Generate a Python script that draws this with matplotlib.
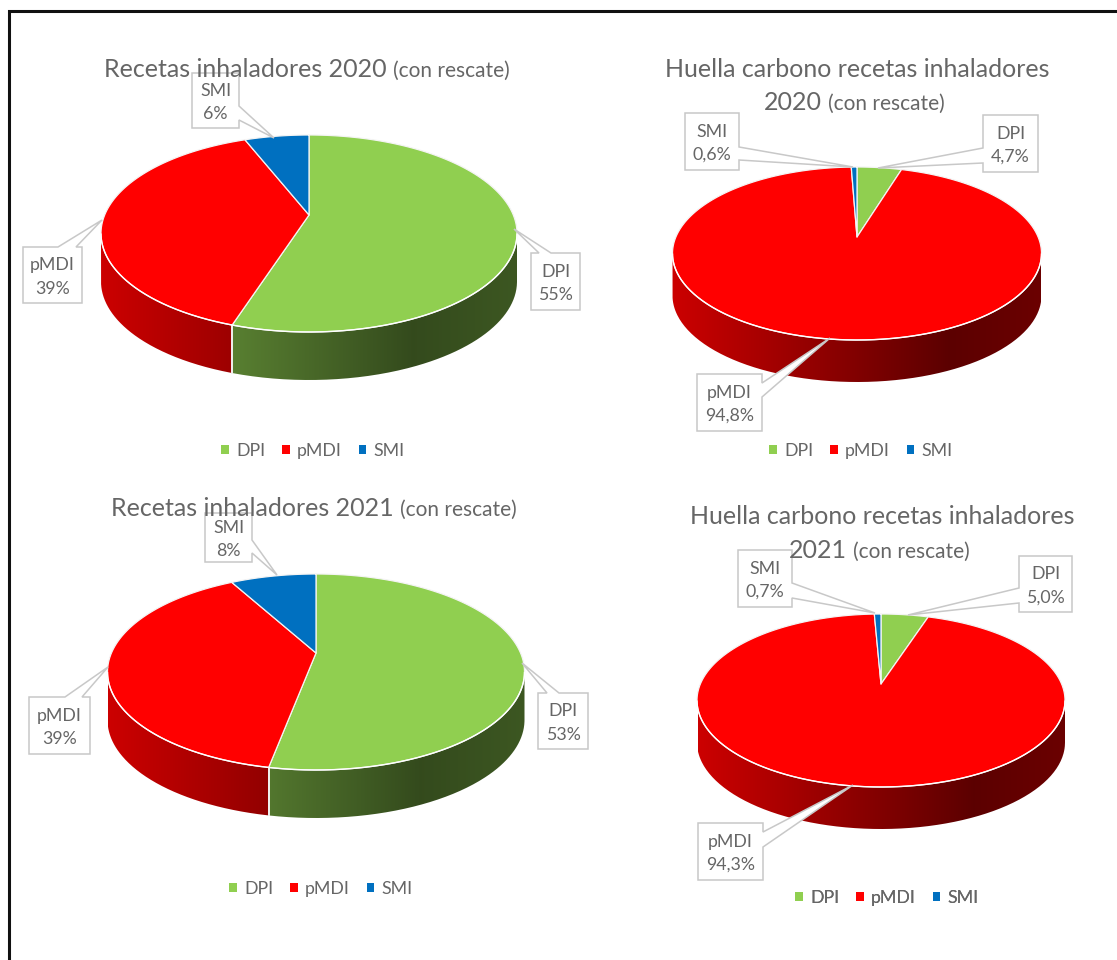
#!/usr/bin/env python3
"""Four 3D-look pie charts of inhaler prescriptions and their carbon footprint."""

import numpy as np
import matplotlib
matplotlib.use("Agg")
import matplotlib.pyplot as plt
from matplotlib.patches import Patch, PathPatch, Polygon
from matplotlib.path import Path

plt.rcParams["font.family"] = ["Lato", "DejaVu Sans"]

CATEGORIES = ["DPI", "pMDI", "SMI"]
RECETAS_2020 = [55, 39, 6]
HUELLA_2020 = [4.7, 94.8, 0.6]
RECETAS_2021 = [53, 39, 8]
HUELLA_2021 = [5.0, 94.3, 0.7]

TEXT_GREY = "#666666"
LINE_GREY = "#c8c8c8"
COLORS = ["#90cf50", "#ff0000", "#0070c0"]
BIG = 18.0
SMALL = 15.0
LABEL = 12.8


def unit(frac):
    return 2 * np.pi * np.asarray(frac)


def make_proj(cx, cy, left, right, top, bottom):
    # perspective view of a circle, the apex sits above the ellipse centre
    up, down = cy - top, bottom - cy
    k = (down - up) / (down + up)
    ry = up * (1 + k)
    rx = (right - left) / 2 * np.sqrt(1 - k * k)

    def proj(t):
        s, c = np.sin(t), np.cos(t)
        d = 1 + k * c
        return cx + rx * s / d, cy - ry * c / d

    return proj, np.arccos(-k)


def draw_pie(ax, values, cx, cy, left, right, top, bottom, depth):
    proj, t_side = make_proj(cx, cy, left, right, top, bottom)
    total = sum(values)
    edges = np.concatenate([[0], np.cumsum(values)]) / total

    # wall shading runs across the whole pie width
    f = np.linspace(0, 1, 300)
    shade = np.interp(f, [0, 0.75, 1], [0.80, 0.36, 0.42])

    for i, color in enumerate(COLORS):
        a = max(unit(edges[i]), t_side)
        b = min(unit(edges[i + 1]), 2 * np.pi - t_side)
        if b <= a:
            continue
        t = np.linspace(a, b, 200)
        x, y = proj(t)
        verts = np.vstack([np.c_[x, y], np.c_[x, y + depth][::-1]])
        clip = PathPatch(Path(np.vstack([verts, verts[:1]])), fc="none", ec="none",
                         transform=ax.transData)
        ax.add_patch(clip)
        rgb = np.array(matplotlib.colors.to_rgb(color))
        grad = (shade[:, None] * rgb)[None, :, :]
        im = ax.imshow(grad, extent=(left, right, bottom + depth + 2, top), aspect="auto",
                       zorder=2, interpolation="bilinear")
        im.set_clip_path(clip)
        ax.plot(x, y, color="white", lw=1.0, zorder=4, solid_capstyle="butt")
        for tt in (a, b):
            if t_side < tt < 2 * np.pi - t_side:
                px, py = proj(tt)
                ax.plot([px, px], [py, py + depth], color="#f2f2f2", lw=1.2, zorder=3)

    for i, color in enumerate(COLORS):
        t = np.linspace(unit(edges[i]), unit(edges[i + 1]), 300)
        x, y = proj(t)
        pts = np.vstack([[cx, cy], np.c_[x, y]])
        ax.add_patch(Polygon(pts, closed=True, fc=color, ec="#f4f4f4", lw=0.9, zorder=3.5,
                             joinstyle="round"))


def callout(ax, text, box, side, a, b, tip):
    # box is x0, y0, x1, y1; the tail leaves one side between a and b
    x0, y0, x1, y1 = box
    if side == "top":
        pts = [(x0, y0), (a, y0), tip, (b, y0), (x1, y0), (x1, y1), (x0, y1)]
    elif side == "right":
        pts = [(x0, y0), (x1, y0), (x1, a), tip, (x1, b), (x1, y1), (x0, y1)]
    elif side == "left":
        pts = [(x0, y0), (x1, y0), (x1, y1), (x0, y1), (x0, b), tip, (x0, a)]
    ax.add_patch(Polygon(pts, closed=True, fc="white", ec=LINE_GREY, lw=1.1, zorder=6))
    ax.text((x0 + x1) / 2, (y0 + y1) / 2 + 2, text, ha="center", va="center", color=TEXT_GREY,
            fontsize=LABEL, linespacing=1.55, zorder=8)


def title(ax, big, x_end, y):
    ax.text(x_end, y, big, ha="right", va="baseline", color=TEXT_GREY, fontsize=BIG, zorder=7)
    ax.text(x_end + 6, y, "(con rescate)", ha="left", va="baseline", color=TEXT_GREY,
            fontsize=SMALL, zorder=7)


def legend(ax, cx, cy):
    handles = [Patch(fc=c, ec="none") for c in COLORS]
    leg = ax.legend(handles, CATEGORIES, ncol=3, frameon=False, loc="center",
                    bbox_to_anchor=(cx, cy + 1), bbox_transform=ax.transData, fontsize=LABEL,
                    handlelength=0.42, handleheight=0.42, handletextpad=0.42,
                    columnspacing=0.95, borderpad=0, labelcolor=TEXT_GREY)
    ax.add_artist(leg)


def share(value, decimals):
    return f"{value:.{decimals}f}".replace(".", ",") + "%"


def main():
    fig = plt.figure(figsize=(11.17, 9.6), dpi=100)
    ax = fig.add_axes([0, 0, 1, 1])

    draw_pie(ax, RECETAS_2020, 309, 215, 101, 517, 135, 332, 48)
    draw_pie(ax, HUELLA_2020, 857, 237, 672, 1041, 167, 340, 42)
    draw_pie(ax, RECETAS_2021, 316, 653, 108, 525, 574, 770, 48)
    draw_pie(ax, HUELLA_2021, 881, 684, 698, 1066, 614, 787, 42)

    def lab(i, values, dec=0):
        return f"{CATEGORIES[i]}\n{share(values[i], dec)}"

    callout(ax, lab(2, RECETAS_2020), (192, 73, 239, 128), "right", 106, 120, (274, 138))
    callout(ax, lab(1, RECETAS_2020), (23, 247, 82, 303), "top", 58, 76, (102, 220))
    callout(ax, lab(0, RECETAS_2020), (531, 253, 580, 310), "top", 539, 551, (514, 229))

    callout(ax, lab(2, HUELLA_2020, 1), (685, 113, 739, 170), "right", 147, 160, (853, 167))
    callout(ax, lab(0, HUELLA_2020, 1), (983, 115, 1038, 172), "left", 148, 163, (878, 168))
    callout(ax, lab(1, HUELLA_2020, 1), (697, 374, 762, 431), "right", 383, 397, (830, 338))

    callout(ax, lab(2, RECETAS_2021), (205, 513, 252, 562), "right", 540, 553, (277, 575))
    callout(ax, lab(1, RECETAS_2021), (29, 697, 90, 754), "top", 65, 82, (108, 667))
    callout(ax, lab(0, RECETAS_2021), (538, 693, 588, 749), "top", 547, 559, (522, 663))

    callout(ax, lab(2, HUELLA_2021, 1), (738, 550, 792, 607), "right", 583, 598, (875, 613))
    callout(ax, lab(0, HUELLA_2021, 1), (1019, 556, 1072, 612), "left", 588, 603, (908, 615))
    callout(ax, lab(1, HUELLA_2021, 1), (698, 823, 763, 880), "right", 832, 847, (853, 785))

    title(ax, "Recetas inhaladores 2020", 387, 77)
    title(ax, "Recetas inhaladores 2021", 394, 516)
    ax.text(857, 77, "Huella carbono recetas inhaladores", ha="center", va="baseline",
            color=TEXT_GREY, fontsize=BIG, zorder=7)
    title(ax, "2020", 822, 110)
    ax.text(882, 524, "Huella carbono recetas inhaladores", ha="center", va="baseline",
            color=TEXT_GREY, fontsize=BIG, zorder=7)
    title(ax, "2021", 847, 558)

    legend(ax, 313, 450)
    legend(ax, 861, 450)
    legend(ax, 321, 888)
    legend(ax, 887, 897)

    # outer frame of the pasted picture, cut off at right and bottom
    ax.plot([9, 9, 1117], [960, 11, 11], color="#111111", lw=2.2, solid_joinstyle="miter", zorder=9)

    ax.set_xlim(0, 1117)
    ax.set_ylim(960, 0)
    ax.axis("off")
    fig.savefig("out.png", dpi=100, facecolor="white")


if __name__ == "__main__":
    main()
